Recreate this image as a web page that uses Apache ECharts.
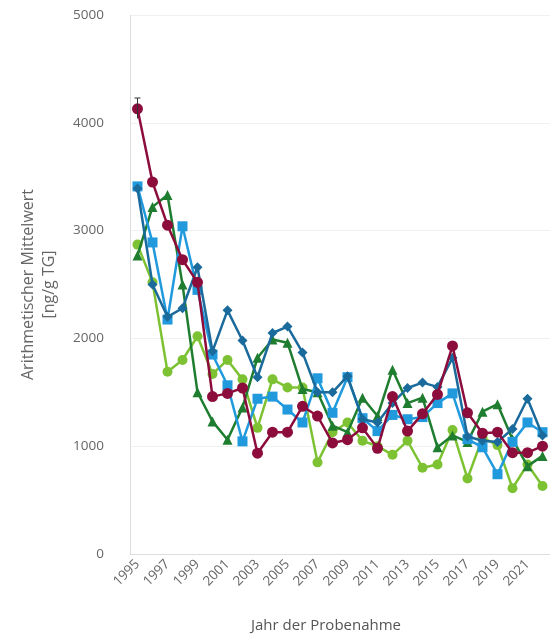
<!DOCTYPE html>
<html>
<head>
<meta charset="utf-8">
<script src="https://cdn.jsdelivr.net/npm/echarts@6/dist/echarts.min.js"></script>
<style>
  html, body { margin: 0; padding: 0; background: #fff; }
  #chart { width: 550px; height: 638px; }
</style>
</head>
<body>
<div id="chart"></div>
<script>
// Jahre
const years = ['1995', '1996', '1997', '1998', '1999', '2000', '2001', '2002', '2003', '2004',
  '2005', '2006', '2007', '2008', '2009', '2010', '2011', '2012', '2013', '2014',
  '2015', '2016', '2017', '2018', '2019', '2020', '2021', '2022']

// Messreihen (ng/g TG)
const redValues = [4130, 3450, 3050, 2730, 2520, 1460, 1490, 1540, 935, 1130,
  1130, 1370, 1280, 1030, 1060, 1170, 980, 1460, 1140, 1300,
  1480, 1930, 1310, 1120, 1130, 940, 940, 1000]
const lightBlueValues = [3410, 2890, 2175, 3040, 2450, 1850, 1565, 1045, 1440, 1460,
  1340, 1220, 1630, 1310, 1640, 1260, 1140, 1290, 1250, 1270,
  1400, 1490, 1065, 990, 740, 1040, 1220, 1130]
const darkGreenValues = [2770, 3220, 3330, 2500, 1500, 1230, 1060, 1360, 1820, 1990,
  1960, 1530, 1500, 1190, 1130, 1450, 1280, 1710, 1400, 1450,
  990, 1100, 1040, 1320, 1390, 1065, 815, 910]
const lightGreenValues = [2870, 2520, 1690, 1800, 2020, 1670, 1800, 1620, 1170, 1620,
  1545, 1545, 850, 1130, 1220, 1050, 1000, 920, 1050, 800,
  830, 1150, 700, 1080, 1010, 610, 830, 630]
const darkBlueValues = [3390, 2500, 2200, 2280, 2660, 1880, 2260, 1980, 1640, 2050,
  2110, 1870, 1500, 1500, 1650, 1250, 1220, 1400, 1540, 1590,
  1550, 1820, 1090, 1050, 1040, 1160, 1440, 1100]

// Fehlerbalken (Jahr, unten, oben)
const redError = [['1995', 4040, 4230]]

const yTicks = [0, 1000, 2000, 3000, 4000, 5000]

const myChart = echarts.init(document.getElementById('chart'))

const lineSeries = (name, data, color, symbol, size, z) => ({
  name: name,
  type: 'line',
  data: data,
  symbol: symbol,
  symbolSize: size,
  showAllSymbol: true,
  z: z,
  itemStyle: { color: color },
  lineStyle: { color: color, width: 2.5 },
  emphasis: { disabled: true },
})

const option = {
  animation: false,
  backgroundColor: '#fff',
  textStyle: { fontFamily: 'Open Sans' },
  grid: {
    left: 130,
    right: -8,
    top: 15,
    bottom: 83,
  },
  xAxis: {
    type: 'category',
    data: years,
    boundaryGap: true,
    name: 'Jahr der Probenahme',
    nameLocation: 'middle',
    nameGap: 64,
    nameTextStyle: { color: '#555', fontSize: 15, padding: [0, 28, 0, 0] },
    axisLine: { lineStyle: { color: '#ddd' } },
    axisTick: { show: false },
    axisLabel: {
      interval: 1,
      rotate: 45,
      color: '#666',
      fontSize: 13.5,
      margin: 8,
    },
    splitLine: { show: false },
  },
  yAxis: {
    type: 'value',
    min: yTicks[0],
    max: yTicks[yTicks.length - 1],
    interval: 1000,
    name: 'Arithmetischer Mittelwert\n[ng/g TG]',
    nameLocation: 'middle',
    nameGap: 70,
    nameTextStyle: { color: '#666', fontSize: 16, lineHeight: 21 },
    axisLine: { show: true, lineStyle: { color: '#ddd' } },
    axisTick: { show: false },
    axisLabel: { color: '#666', fontSize: 13.5, margin: 26, formatter: (v) => String(v) },
    splitLine: { lineStyle: { color: '#f0f0f0' } },
  },
  series: [
    lineSeries('hellgruen', lightGreenValues, '#7dc233', 'circle', 10, 2),
    lineSeries('dunkelgruen', darkGreenValues, '#1f7d30', 'triangle', 10, 3),
    lineSeries('hellblau', lightBlueValues, '#2199dd', 'rect', 10, 4),
    lineSeries('dunkelblau', darkBlueValues, '#1a6a9c', 'diamond', 10, 5),
    lineSeries('rot', redValues, '#8c0c3c', 'circle', 11, 6),
    {
      type: 'custom',
      z: 7,
      data: redError,
      renderItem: (params, api) => {
        const lo = api.coord([api.value(0), api.value(1)])
        const hi = api.coord([api.value(0), api.value(2)])
        const style = { stroke: '#333', lineWidth: 1 }
        return {
          type: 'group',
          children: [
            { type: 'line', shape: { x1: hi[0], y1: hi[1], x2: lo[0], y2: lo[1] }, style: style },
            { type: 'line', shape: { x1: hi[0] - 3, y1: hi[1], x2: hi[0] + 3, y2: hi[1] }, style: style },
          ],
        }
      },
    },
  ],
}

myChart.setOption(option)
</script>
</body>
</html>
